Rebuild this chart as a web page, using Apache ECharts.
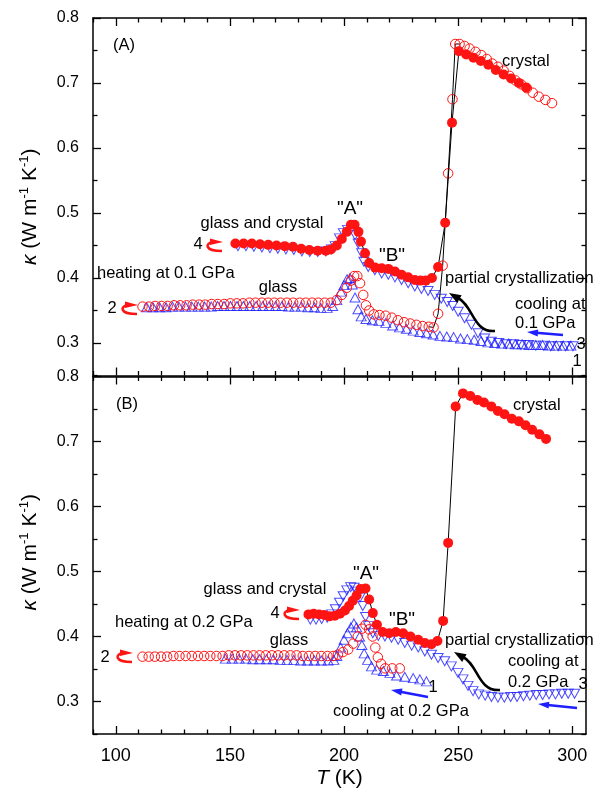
<!DOCTYPE html>
<html>
<head>
<meta charset="utf-8">
<script src="https://cdn.jsdelivr.net/npm/echarts@6/dist/echarts.min.js"></script>
<style>
html, body { margin: 0; padding: 0; background: #fff; }
#chart { width: 608px; height: 794px; }
</style>
</head>
<body>
<div id="chart"></div>
<script>
// tick values
const xMajor = [100, 150, 200, 250, 300];
const xMinor = [90, 110, 120, 130, 140, 160, 170, 180, 190, 210, 220, 230, 240, 260, 270, 280, 290];
const yMajor = [0.3, 0.4, 0.5, 0.6, 0.7, 0.8];
const yMinor = [0.25, 0.35, 0.45, 0.55, 0.65, 0.75];

// panel (A), 0.1 GPa
// 1: cooling (open up triangles)
const aUpT = [113.5, 116.3, 119.2, 122.0, 124.8, 127.6, 130.5, 133.3, 136.1, 138.9,
  141.8, 144.6, 147.4, 150.2, 153.1, 155.9, 158.7, 161.5, 164.4, 167.2,
  170.0, 172.8, 175.7, 178.5, 181.3, 184.1, 187.0, 189.8, 192.6, 195.0,
  196.8, 198.6, 200.0, 201.3, 202.6, 203.6, 204.8, 206.1, 207.5, 209.6,
  212.4, 215.3, 218.3, 221.3, 224.3, 227.3, 230.3, 233.2, 236.1, 239.0,
  242.0, 245.0, 248.0, 251.0, 254.0, 257.0, 260.0, 263.0, 266.0, 269.0,
  272.0, 275.0, 278.0, 281.0, 284.0, 287.0, 290.0, 293.0, 296.0, 299.4];
const aUpK = [0.355, 0.355, 0.355, 0.355, 0.356, 0.356, 0.356, 0.356, 0.356, 0.356,
  0.356, 0.357, 0.357, 0.357, 0.357, 0.357, 0.357, 0.357, 0.357, 0.357,
  0.357, 0.357, 0.356, 0.356, 0.356, 0.355, 0.355, 0.354, 0.354, 0.357,
  0.366, 0.379, 0.389, 0.398, 0.400, 0.390, 0.370, 0.352, 0.341, 0.337,
  0.335, 0.334, 0.331, 0.327, 0.324, 0.322, 0.319, 0.317, 0.315, 0.313,
  0.311, 0.310, 0.309, 0.307, 0.306, 0.305, 0.303, 0.301, 0.300, 0.299,
  0.299, 0.298, 0.298, 0.297, 0.297, 0.297, 0.296, 0.296, 0.296, 0.296];
// 2: heating (open circles)
const aOpenT = [111.7, 114.5, 117.2, 120.0, 122.7, 125.5, 128.2, 131.0, 133.7, 136.5,
  139.2, 142.0, 144.7, 147.5, 150.2, 153.0, 155.7, 158.5, 161.2, 164.0,
  166.7, 169.5, 172.2, 175.0, 177.7, 180.5, 183.2, 186.0, 188.7, 191.5,
  194.2, 196.8, 199.0, 201.2, 203.0, 204.4, 205.8, 207.0, 208.4, 209.6,
  211.0, 213.0, 215.5, 218.2, 220.9, 223.6, 226.3, 229.0, 231.7, 234.4,
  237.1, 239.2, 241.2, 243.2, 245.6, 247.5, 248.7, 250.6, 252.8, 255.0,
  257.6, 260.1, 262.5, 264.9, 267.4, 269.9, 272.5, 275.1, 277.6, 280.1,
  282.7, 285.3, 288.2, 291.1];
const aOpenK = [0.356, 0.356, 0.357, 0.357, 0.357, 0.358, 0.358, 0.358, 0.359, 0.359,
  0.359, 0.360, 0.360, 0.360, 0.361, 0.361, 0.361, 0.362, 0.362, 0.362,
  0.362, 0.362, 0.362, 0.362, 0.362, 0.362, 0.362, 0.362, 0.362, 0.362,
  0.362, 0.366, 0.374, 0.385, 0.396, 0.403, 0.403, 0.392, 0.374, 0.358,
  0.350, 0.344, 0.343, 0.342, 0.339, 0.335, 0.332, 0.330, 0.328, 0.326,
  0.325, 0.324, 0.345, 0.419, 0.561, 0.675, 0.760, 0.760, 0.757, 0.753,
  0.748, 0.743, 0.737, 0.730, 0.725, 0.719, 0.711, 0.704, 0.698, 0.692,
  0.685, 0.679, 0.674, 0.669];
// 3: cooling (open down triangles)
const aDownT = [153.5, 157.0, 160.5, 164.0, 167.5, 171.0, 174.5, 178.0, 181.5, 185.0,
  188.5, 192.0, 194.5, 196.1, 198.0, 199.7, 201.5, 203.2, 204.8, 206.2,
  207.7, 208.7, 210.6, 213.5, 216.5, 219.4, 222.3, 225.2, 228.1, 231.0,
  233.9, 236.8, 239.7, 242.6, 245.2, 247.6, 250.0, 252.8, 255.8, 258.7,
  261.6, 264.5, 267.8, 271.0, 274.3, 277.5, 280.8, 284.0, 287.3, 290.5,
  293.8, 297.0, 300.3];
const aDownK = [0.449, 0.449, 0.448, 0.447, 0.446, 0.445, 0.444, 0.443, 0.441, 0.440,
  0.440, 0.441, 0.444, 0.449, 0.461, 0.469, 0.474, 0.476, 0.466, 0.453,
  0.438, 0.425, 0.417, 0.412, 0.407, 0.405, 0.401, 0.397, 0.392, 0.387,
  0.383, 0.380, 0.374, 0.368, 0.363, 0.357, 0.348, 0.338, 0.328, 0.315,
  0.307, 0.302, 0.300, 0.298, 0.298, 0.297, 0.297, 0.296, 0.296, 0.295,
  0.295, 0.295, 0.295];
// 4: heating (filled circles)
const aFillT = [152.4, 156.0, 159.6, 163.2, 166.8, 170.4, 174.0, 177.6, 181.2, 184.8,
  188.4, 192.0, 194.2, 196.8, 199.0, 201.2, 203.0, 204.6, 206.3, 207.4,
  209.2, 211.0, 213.6, 216.5, 219.4, 222.3, 225.2, 228.1, 231.0, 233.5,
  235.8, 238.5, 241.2, 244.3, 247.3, 250.3, 253.5, 256.7, 259.9, 263.2,
  266.5, 269.9, 273.2, 276.6, 279.8];
const aFillK = [0.453, 0.453, 0.453, 0.452, 0.451, 0.450, 0.449, 0.448, 0.445, 0.443,
  0.442, 0.442, 0.444, 0.450, 0.460, 0.471, 0.482, 0.482, 0.471, 0.456,
  0.438, 0.423, 0.416, 0.415, 0.414, 0.410, 0.405, 0.401, 0.397, 0.396,
  0.396, 0.400, 0.417, 0.485, 0.639, 0.749, 0.744, 0.739, 0.734, 0.728,
  0.720, 0.713, 0.707, 0.700, 0.693];

// panel (B), 0.2 GPa
const bUpT = [148.0, 151.0, 154.0, 157.0, 160.0,
  163.0, 166.0, 169.0, 172.0, 175.0, 178.0, 181.0, 184.0, 187.0, 190.0,
  193.0, 195.5, 196.8, 198.5, 200.0, 201.5, 203.0, 204.3, 205.5, 206.8,
  207.8, 208.8, 210.3, 212.0, 214.3, 217.2, 220.1, 223.0, 226.6, 230.3,
  233.2, 236.1];
const bUpK = [0.366, 0.366, 0.366, 0.366, 0.365,
  0.365, 0.365, 0.365, 0.364, 0.364, 0.364, 0.363, 0.363, 0.363, 0.363,
  0.363, 0.364, 0.370, 0.383, 0.395, 0.405, 0.414, 0.420, 0.414, 0.400,
  0.387, 0.374, 0.364, 0.354, 0.349, 0.347, 0.344, 0.340, 0.338, 0.336,
  0.334, 0.331];
const bOpenT = [111.7, 114.4, 117.1, 119.8, 122.5, 125.2, 127.9, 130.6, 133.3, 136.0,
  138.7, 141.4, 144.1, 146.8, 149.5, 152.2, 154.9, 157.6, 160.3, 163.0,
  165.7, 168.4, 171.1, 173.8, 176.5, 179.2, 181.9, 184.6, 187.3, 190.0,
  192.7, 195.2, 197.3, 199.5, 201.8, 204.0, 206.0, 207.8, 209.4, 211.0,
  212.5, 213.7, 214.8, 216.2, 218.0, 221.1, 224.4];
const bOpenK = [0.369, 0.369, 0.369, 0.369, 0.369, 0.370, 0.370, 0.370, 0.370, 0.370,
  0.370, 0.370, 0.370, 0.370, 0.371, 0.371, 0.371, 0.371, 0.371, 0.371,
  0.371, 0.371, 0.371, 0.371, 0.371, 0.371, 0.370, 0.370, 0.370, 0.370,
  0.370, 0.370, 0.372, 0.376, 0.380, 0.389, 0.400, 0.412, 0.418, 0.411,
  0.400, 0.383, 0.368, 0.358, 0.351, 0.351, 0.351];
const bDownT = [185.2, 187.7, 190.2, 192.6, 194.6, 196.2, 198.0, 199.6, 201.2, 202.9,
  204.4, 205.8, 207.0, 208.2, 209.4, 210.7, 212.6, 215.0, 217.9, 220.8,
  223.7, 226.6, 229.6, 232.5, 235.4, 238.3, 241.2, 244.1, 247.0, 249.9,
  252.1, 254.3, 256.5, 259.0, 261.8, 264.6, 267.4, 270.2, 273.0, 275.8,
  278.6, 281.4, 284.2, 287.0, 289.8, 292.6, 295.4, 298.2, 301.0];
const bDownK = [0.426, 0.426, 0.427, 0.429, 0.434, 0.442, 0.452, 0.462, 0.471, 0.476,
  0.475, 0.469, 0.460, 0.447, 0.430, 0.416, 0.405, 0.401, 0.400, 0.398,
  0.395, 0.390, 0.386, 0.383, 0.377, 0.372, 0.367, 0.362, 0.354, 0.344,
  0.334, 0.324, 0.316, 0.311, 0.309, 0.307, 0.306, 0.306, 0.307, 0.307,
  0.308, 0.309, 0.310, 0.310, 0.311, 0.311, 0.312, 0.312, 0.312];
const bFillT = [184.4, 186.7, 189.0, 191.3, 193.6, 195.9, 198.2, 200.4, 202.2, 203.8,
  205.5, 207.2, 209.4, 211.0, 212.6, 214.4, 216.9, 219.8, 222.7, 225.9,
  229.1, 232.5, 235.4, 238.3, 240.9, 243.4, 245.6, 248.9, 252.1, 255.3,
  258.4, 261.3, 264.5, 267.4, 270.3, 273.5, 276.6, 279.5, 282.4, 285.6,
  288.5];
const bFillK = [0.434, 0.435, 0.434, 0.433, 0.431, 0.432, 0.435, 0.440, 0.447, 0.455,
  0.463, 0.473, 0.474, 0.457, 0.436, 0.418, 0.407, 0.405, 0.407, 0.405,
  0.400, 0.395, 0.390, 0.388, 0.393, 0.424, 0.544, 0.754, 0.774, 0.770,
  0.764, 0.760, 0.754, 0.747, 0.742, 0.735, 0.731, 0.725, 0.718, 0.711,
  0.704];

const FONT = '"Liberation Sans", Arial, Helvetica, sans-serif';
const BLUE = '#1e1eff';
const RED = '#ff1414';

const pts = (t, k) => t.map((v, i) => [v, k[i]]);

const chart = echarts.init(document.getElementById('chart'), null, { renderer: 'canvas' });

// four axes per side pair: major/minor ticks, both sides of the frame
const makeX = (gi, pos, ticks, len, showLine, showLabel, withName) => ({
    type: 'value', gridIndex: gi, position: pos, min: 90, max: 306,
    axisLine: { show: showLine, onZero: false, lineStyle: { color: '#000', width: 1.5 } },
    axisTick: { show: true, inside: true, length: len, customValues: ticks, lineStyle: { color: '#000', width: 1.3 } },
    axisLabel: { show: showLabel, customValues: xMajor, margin: 13, color: '#000', fontSize: 18, fontFamily: FONT },
    splitLine: { show: false },
    name: withName ? '{i|T} (K)' : '',
    nameLocation: 'middle',
    nameGap: 34,
    nameTextStyle: { color: '#000', fontSize: 21, fontFamily: FONT, rich: { i: { fontStyle: 'italic', fontSize: 21, fontFamily: FONT } } }
})

// y name: shift along the axis with padding (top panel sits a bit lower in the reference)
const yNamePad = [[0, 20, 0, 0], [0, 0, 0, 6]];
const makeY = (gi, pos, ticks, len, showLine, showLabel) => ({
    type: 'value', gridIndex: gi, position: pos, min: 0.25, max: 0.8,
    axisLine: { show: showLine, onZero: false, lineStyle: { color: '#000', width: 1.5 } },
    axisTick: { show: true, inside: true, length: len, customValues: ticks, lineStyle: { color: '#000', width: 1.3 } },
    axisLabel: { show: showLabel, customValues: yMajor, margin: 14, color: '#000', fontSize: 16, fontFamily: FONT,
        formatter: v => v.toFixed(1) },
    splitLine: { show: false },
    name: showLabel ? '{i|κ} (W m{s|-1} K{s|-1})' : '',
    nameLocation: 'middle',
    nameRotate: 90,
    nameGap: 50,
    nameTextStyle: { color: '#000', fontSize: 21, fontFamily: FONT, padding: yNamePad[gi],
        rich: { i: { fontStyle: 'italic', fontSize: 21, fontFamily: FONT },
                s: { fontSize: 13, fontFamily: FONT, padding: [0, 0, 12, 0] } } }
})

const xAxes = [], yAxes = [];
[0, 1].forEach(gi => {
    xAxes.push(makeX(gi, 'bottom', xMajor, 8, true, gi === 1, gi === 1));
    xAxes.push(makeX(gi, 'bottom', xMinor, 4.5, false, false, false));
    xAxes.push(makeX(gi, 'top', xMajor, 8, true, false, false));
    xAxes.push(makeX(gi, 'top', xMinor, 4.5, false, false, false));
    yAxes.push(makeY(gi, 'left', yMajor, 8, true, true));
    yAxes.push(makeY(gi, 'left', yMinor, 4.5, false, false));
    yAxes.push(makeY(gi, 'right', yMajor, 8, true, false));
    yAxes.push(makeY(gi, 'right', yMinor, 4.5, false, false));
});

// series styles
const triangles = (gi, data, down) => ({
    type: 'scatter', xAxisIndex: gi * 4, yAxisIndex: gi * 4, data,
    symbol: 'triangle', symbolSize: [10, 9], symbolRotate: down ? 180 : 0,
    itemStyle: { color: 'rgba(0,0,0,0)', borderColor: BLUE, borderWidth: 1 },
    silent: true, z: 2
})
const circles = (gi, data, filled) => ({
    type: 'line', xAxisIndex: gi * 4, yAxisIndex: gi * 4, data,
    symbol: 'circle', symbolSize: filled ? 10 : 9.5, showSymbol: true,
    lineStyle: { color: '#000', width: filled ? 1 : 0 },
    itemStyle: filled ? { color: RED, borderColor: RED, borderWidth: 0 }
                      : { color: 'rgba(0,0,0,0)', borderColor: RED, borderWidth: 1 },
    silent: true, z: filled ? 4 : 3
})
// thin black guide line through the jump of the open circles
const jumpLine = (gi, data) => ({
    type: 'line', xAxisIndex: gi * 4, yAxisIndex: gi * 4, data,
    symbol: 'none', lineStyle: { color: '#000', width: 1 }, silent: true, z: 3
})

const aOpen = pts(aOpenT, aOpenK);
const series = [
    triangles(0, pts(aUpT, aUpK), false),
    circles(0, aOpen, false),
    jumpLine(0, aOpen.filter(p => p[0] >= 237 && p[0] <= 251)),
    triangles(0, pts(aDownT, aDownK), true),
    circles(0, pts(aFillT, aFillK), true),
    triangles(1, pts(bUpT, bUpK), false),
    circles(1, pts(bOpenT, bOpenK), false),
    triangles(1, pts(bDownT, bDownK), true),
    circles(1, pts(bFillT, bFillK), true)
];

// annotations
const txt = (s, x, y, align, size) => ({
    type: 'text', x, y, z: 10, silent: true,
    style: { text: s, fill: '#000', font: (size || 16.5) + 'px ' + FONT, textAlign: align || 'left', verticalAlign: 'middle' }
})
const head = (tx, ty, fx, fy, len, hw, color) => {
    const dx = tx - fx, dy = ty - fy, d = Math.hypot(dx, dy);
    const ux = dx / d, uy = dy / d;
    const bx = tx - ux * len, by = ty - uy * len;
    return { type: 'polygon', z: 10, silent: true,
        shape: { points: [[tx, ty], [bx - uy * hw, by + ux * hw], [bx + uy * hw, by - ux * hw]] },
        style: { fill: color } };
}
const straightArrow = (x1, y1, x2, y2, color) => [
    { type: 'line', z: 10, silent: true, shape: { x1, y1, x2: x2 + (x1 - x2) * 0.25, y2: y2 + (y1 - y2) * 0.25 },
      style: { stroke: color, lineWidth: 2.5 } },
    head(x2, y2, x1, y1, 11, 3.5, color)
]
const curvedArrow = (ox, oy) => [
    { type: 'bezierCurve', z: 10, silent: true,
      shape: { x1: ox + 46, y1: oy + 38, cpx1: ox + 24, cpy1: oy + 40, cpx2: ox + 24, cpy2: oy + 12, x2: ox + 9, y2: oy + 5 },
      style: { stroke: '#000', lineWidth: 2.5, fill: null } },
    head(ox, oy, ox + 12, oy + 7, 12, 4.5, '#000')
]
const hook = (ox, oy) => ({
    type: 'group', x: ox, y: oy, z: 10, silent: true,
    children: [
        { type: 'bezierCurve', shape: { x1: 7, y1: 3, cpx1: -1, cpy1: 4, cpx2: -2, cpy2: 12, x2: 16, y2: 12 },
          style: { stroke: RED, lineWidth: 2.6, fill: null } },
        { type: 'polygon', shape: { points: [[4, -0.5], [17, 3], [4, 6]] }, style: { fill: RED } }
    ]
})

const graphic = [
    // (A)
    txt('(A)', 124, 45, 'center'),
    txt('crystal', 502, 61),
    txt('"A"', 350, 209, 'center', 19),
    txt('"B"', 392, 256, 'center', 19),
    txt('glass and crystal', 262, 223, 'center'),
    txt('4', 198, 244, 'center'),
    hook(206, 239),
    txt('heating at 0.1 GPa', 97, 273),
    txt('glass', 278, 287, 'center'),
    txt('2', 112, 308, 'center'),
    hook(121, 302),
    txt('partial crystallization', 445, 278),
    ...curvedArrow(449, 293),
    txt('cooling at', 515, 304),
    txt('0.1 GPa', 515, 323),
    ...straightArrow(563, 335, 527, 332, BLUE),
    txt('3', 581, 344, 'center'),
    txt('1', 577, 361, 'center'),
    // (B)
    txt('(B)', 127, 404, 'center'),
    txt('crystal', 513, 405),
    txt('"A"', 366, 574, 'center', 19),
    txt('glass and crystal', 265, 589, 'center'),
    txt('4', 275, 613, 'center'),
    hook(283, 607),
    txt('"B"', 402, 620, 'center', 19),
    txt('heating at 0.2 GPa', 115, 622),
    txt('glass', 289, 640, 'center'),
    txt('2', 105, 657, 'center'),
    hook(116, 650),
    txt('partial crystallization', 445, 640),
    ...curvedArrow(454, 652),
    txt('cooling at', 508, 661),
    txt('0.2 GPa', 508, 682),
    txt('3', 583, 684, 'center'),
    ...straightArrow(577, 708, 538, 704, BLUE),
    txt('1', 433, 687, 'center'),
    ...straightArrow(428, 697, 391, 690, BLUE),
    txt('cooling at 0.2 GPa', 401, 711, 'center')
];

chart.setOption({
    animation: false,
    backgroundColor: '#fff',
    textStyle: { fontFamily: FONT },
    grid: [
        { left: 93, top: 18, width: 493, height: 357.5, outerBoundsMode: 'none' },
        { left: 93, top: 376.5, width: 493, height: 357.5, outerBoundsMode: 'none' }
    ],
    xAxis: xAxes,
    yAxis: yAxes,
    series,
    graphic
});
</script>
</body>
</html>
